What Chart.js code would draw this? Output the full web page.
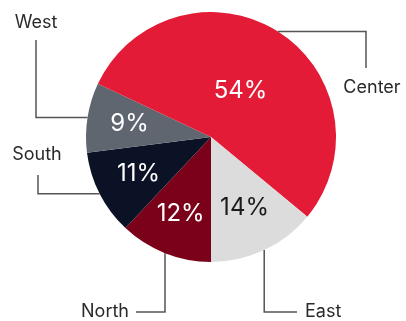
<!DOCTYPE html>
<html>
<head>
<meta charset="utf-8">
<script src="https://cdn.jsdelivr.net/npm/chart.js@4.4.1/dist/chart.umd.min.js"></script>
<style>
  html, body { margin: 0; padding: 0; background: #fff; }
  canvas { display: block; }
</style>
</head>
<body>
<canvas id="regionPie" width="406" height="321"></canvas>
<script>
// Share of total by region
var regions = ["North", "South", "West", "Center", "East"];
var shares = [12, 11, 9, 54, 14];

var sliceColors = ["#7b0019", "#0c1226", "#5f6670", "#e31b36", "#dcdcdc"];
var valueColors = ["#ffffff", "#ffffff", "#ffffff", "#ffffff", "#1b1b1b"];
// how far out (fraction of radius) the percentage sits in each slice
var valueRadius = [0.66, 0.65, 0.66, 0.44, 0.63];

// callout routing: first leg direction, where it bends, where it stops, and the text spot
var callouts = [
  { first: "v", bend: 312, stop: 136, tx: 129, ty: 312, align: "right" },
  { first: "h", bend: 38, stop: 175, tx: 37, ty: 155, align: "center" },
  { first: "h", bend: 36, stop: 40, tx: 36, ty: 23, align: "center" },
  { first: "h", bend: 366, stop: 68, tx: 372, ty: 88, align: "center" },
  { first: "v", bend: 312, stop: 297, tx: 305, ty: 312, align: "left" }
];

var fontName = "Inter, 'DejaVu Sans', sans-serif";

var pieLabels = {
  id: "pieLabels",
  afterDatasetsDraw: function(chart) {
    var ctx = chart.ctx;
    var arcs = chart.getDatasetMeta(0).data;
    ctx.save();
    arcs.forEach(function(arc, i) {
      var p = arc.getProps(["x", "y", "startAngle", "endAngle", "outerRadius"], true);
      var mid = (p.startAngle + p.endAngle) / 2;
      var cos = Math.cos(mid), sin = Math.sin(mid);

      // percentage inside the slice
      var r = p.outerRadius * valueRadius[i];
      ctx.fillStyle = valueColors[i];
      ctx.font = "400 24px " + fontName;
      ctx.textAlign = "center";
      ctx.textBaseline = "middle";
      ctx.fillText(shares[i] + "%", p.x + cos * r, p.y + sin * r);

      // elbow callout from the slice edge to its name
      var c = callouts[i];
      var ax = p.x + cos * p.outerRadius;
      var ay = p.y + sin * p.outerRadius;
      ctx.strokeStyle = "#555555";
      ctx.lineWidth = 1.5;
      ctx.beginPath();
      ctx.moveTo(ax, ay);
      if (c.first === "h") {
        ctx.lineTo(c.bend, ay);
        ctx.lineTo(c.bend, c.stop);
      } else {
        ctx.lineTo(ax, c.bend);
        ctx.lineTo(c.stop, c.bend);
      }
      ctx.stroke();

      ctx.fillStyle = "#2a2a2a";
      ctx.font = "400 18px " + fontName;
      ctx.textAlign = c.align;
      ctx.fillText(regions[i], c.tx, c.ty);
    });
    ctx.restore();
  }
};

var chart = new Chart(document.getElementById("regionPie"), {
  type: "pie",
  data: {
    labels: regions,
    datasets: [{
      data: shares,
      backgroundColor: sliceColors,
      borderWidth: 0
    }]
  },
  options: {
    responsive: false,
    devicePixelRatio: 1,
    animation: false,
    rotation: 180,
    layout: { padding: { left: 86, right: 70, top: 12, bottom: 59 } },
    plugins: {
      legend: { display: false },
      tooltip: { enabled: false }
    }
  },
  plugins: [pieLabels]
});
</script>
</body>
</html>
